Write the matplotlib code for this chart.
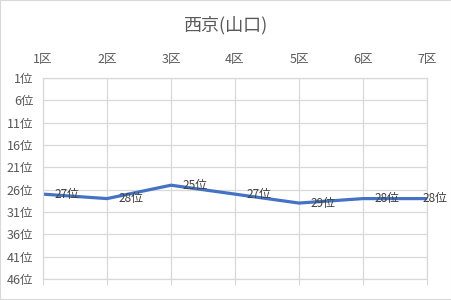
import matplotlib
matplotlib.use('Agg')
from matplotlib import pyplot as plt
from matplotlib.patches import Rectangle


####################################################################################################
#                                             Setting                                              #
####################################################################################################
plt.rcParams['font.family'] = ['Noto Sans CJK JP', 'DejaVu Sans']


####################################################################################################
#                                             Variable                                             #
####################################################################################################
title = '西京(山口)'
sections = ['1区', '2区', '3区', '4区', '5区', '6区', '7区']
ranks = [27, 28, 25, 27, 29, 28, 28]
rank_ticks = list(range(1, 47, 5))


####################################################################################################
#                                             Plot                                                 #
####################################################################################################
fig = plt.figure(figsize=(4.52, 3.00), dpi=100)
fig.patches.append(Rectangle((0, 0), 1, 1, transform=fig.transFigure, fill=False,
                             edgecolor='#d9d9d9', linewidth=1.5))
ax = fig.add_axes([43 / 452, 21 / 300, 384 / 452, 201 / 300])

x = list(range(len(sections)))
ax.plot(x, ranks, color='#4472C4', linewidth=2.3, solid_capstyle='round')

# Data labels
for i, r in enumerate(ranks):
    dx = 8 if i < len(ranks) - 1 else -3
    ax.annotate(f'{r}位', (i, r), xytext=(dx, 0), textcoords='offset points',
                ha='left', va='center', fontsize=8.5, color='#404040')

# Axes
ax.set_xlim(0, len(sections) - 1)
ax.set_ylim(46, 1)
ax.set_yticks(rank_ticks)
ax.set_yticklabels([f'{v}位' for v in rank_ticks])
ax.set_xticks(x)
ax.set_xticklabels(sections)
ax.xaxis.set_ticks_position('bottom')
ax.tick_params(axis='x', which='both', bottom=True, top=False, labelbottom=False,
               labeltop=True, length=4, color='#d9d9d9', pad=5)
ax.tick_params(axis='y', length=0, pad=7)
for lab in ax.get_xticklabels() + ax.get_yticklabels():
    lab.set_fontsize(9)
    lab.set_color('#595959')

ax.grid(True, color='#d9d9d9', linewidth=0.9)
ax.set_axisbelow(True)
for s in ax.spines.values():
    s.set_color('#d9d9d9')
    s.set_linewidth(0.9)

fig.text(0.5, 1 - 25 / 300, title, ha='center', va='center', fontsize=13, color='#595959')

plt.savefig('out.png', dpi=100)
plt.close()
